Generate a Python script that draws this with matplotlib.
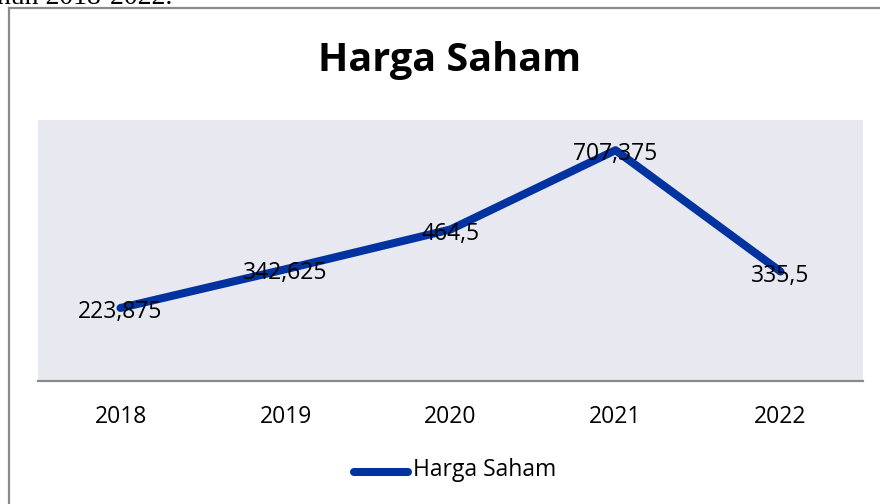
import matplotlib
matplotlib.use("Agg")
import matplotlib.pyplot as plt
from matplotlib.lines import Line2D

years = ["2018", "2019", "2020", "2021", "2022"]
harga_saham = [223.875, 342.625, 464.5, 707.375, 335.5]
labels = ["223,875", "342,625", "464,5", "707,375", "335,5"]

W, H = 880, 504
fig = plt.figure(figsize=(W / 100, H / 100), dpi=100)
plt.rcParams['font.family'] = ['Open Sans', 'DejaVu Sans']

# frame border
fx = lambda px: px / W
fy = lambda py: 1 - py / H
fig.add_artist(Line2D([fx(9), fx(9)], [fy(8), -0.1], color='#8a8a8a', lw=1.6, transform=fig.transFigure))
fig.add_artist(Line2D([fx(9), 1.1], [fy(8), fy(8)], color='#8a8a8a', lw=1.6, transform=fig.transFigure))

# cropped text above (partially visible in the reference)
fig.text(fx(172), fy(4), "tahun 2018-2022.", family='Liberation Serif', fontsize=20,
         va='baseline', ha='right', color='black')

ax = fig.add_axes([fx(38), fy(381), fx(863) - fx(38), fy(120) - fy(381)])
ax.set_facecolor('#E8E8F0')
x = list(range(len(years)))
ax.plot(x, harga_saham, color='#0033A0', lw=5.8, solid_capstyle='round', solid_joinstyle='round',
        label='Harga Saham')
for xi, v, lab in zip(x, harga_saham, labels):
    ax.annotate(lab, (xi, v), xytext=(0, -3), textcoords='offset points', ha='center', va='center',
                fontsize=16.5, color='black')
ax.set_xlim(-0.5, 4.5)
ax.set_ylim(0, 800)
ax.set_yticks([])
ax.set_xticks(x)
ax.set_xticklabels(years, fontsize=16.5)
ax.tick_params(axis='x', length=0, pad=17)
for s in ['top', 'right', 'left']:
    ax.spines[s].set_visible(False)
ax.spines['bottom'].set_color('#8a8a8a')
ax.spines['bottom'].set_linewidth(1.6)

fig.text(fx(450), fy(61), "Harga Saham", ha='center', va='center', fontsize=28.5, fontweight='bold')

# legend
fig.add_artist(Line2D([fx(354), fx(408)], [fy(472), fy(472)], color='#0033A0', lw=5.8,
                      solid_capstyle='round', transform=fig.transFigure))
fig.text(fx(413), fy(470), "Harga Saham", ha='left', va='center', fontsize=16.5)

fig.savefig('out.png', dpi=100)
